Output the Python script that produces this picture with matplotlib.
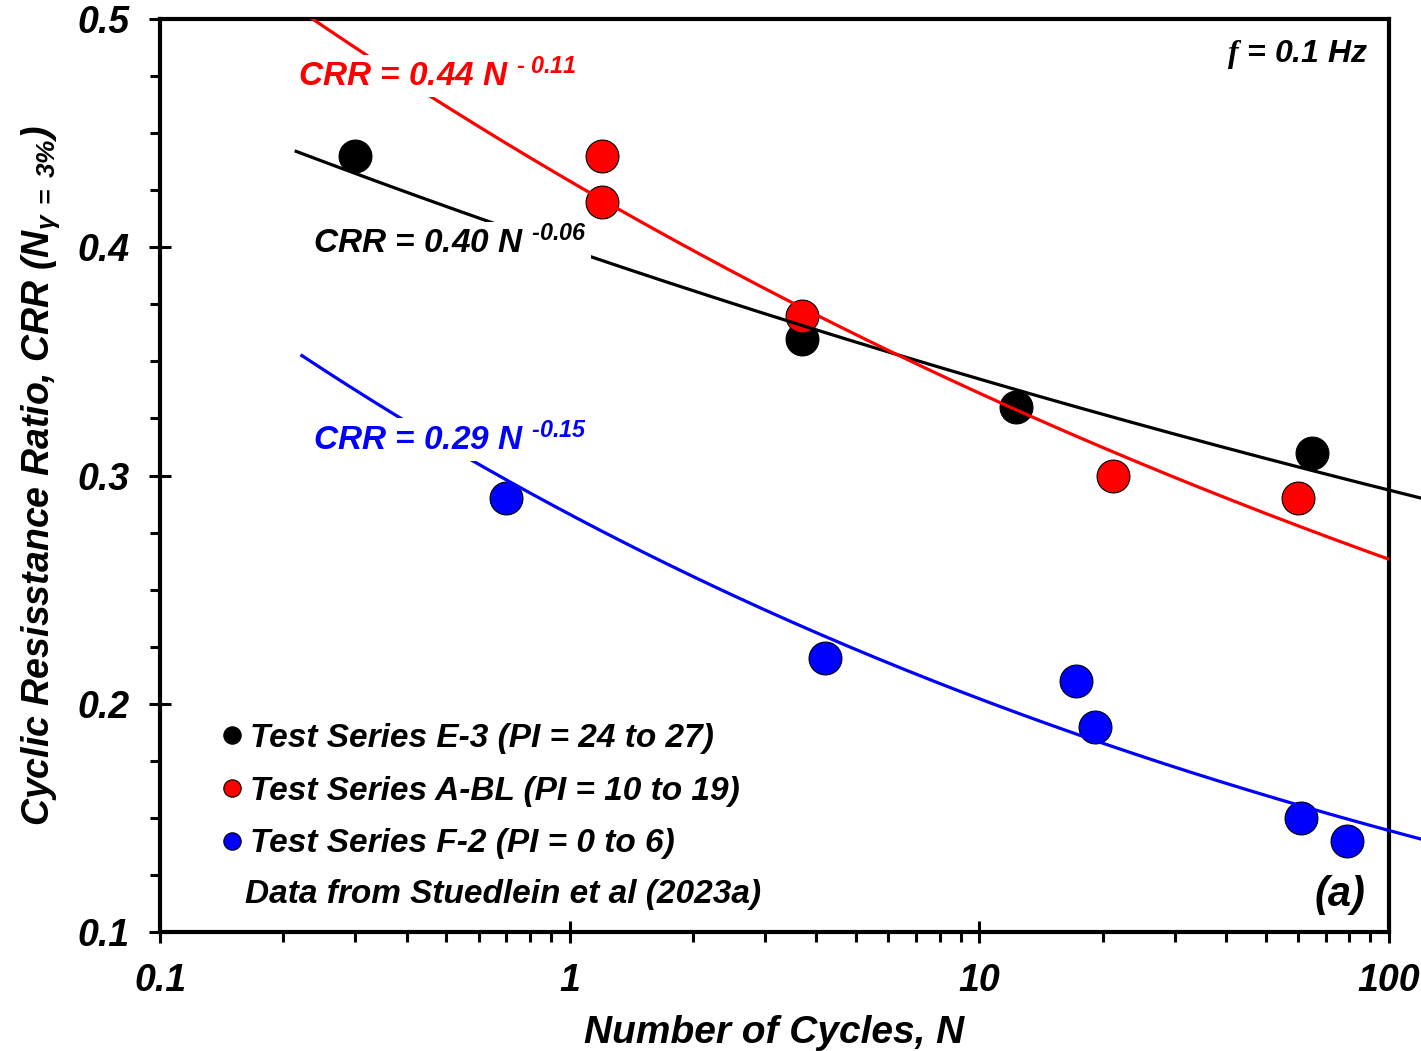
import numpy as np
import matplotlib
matplotlib.use("Agg")
import matplotlib.pyplot as plt
from matplotlib.lines import Line2D
from matplotlib.ticker import MultipleLocator, FixedLocator, NullFormatter

plt.rcParams['font.family'] = ['Liberation Sans', 'DejaVu Sans']
plt.rcParams['font.weight'] = 'bold'
plt.rcParams['font.style'] = 'italic'
plt.rcParams['mathtext.fontset'] = 'custom'
plt.rcParams['mathtext.rm'] = 'Liberation Sans:bold:italic'
plt.rcParams['mathtext.bf'] = 'Liberation Sans:bold:italic'
plt.rcParams['mathtext.it'] = 'Liberation Serif:italic'
plt.rcParams['mathtext.default'] = 'bf'

# test data (number of cycles, CRR)
n_e3 = [0.3, 3.7, 12.3, 65]
crr_e3 = [0.44, 0.36, 0.33, 0.31]
n_abl = [1.2, 1.2, 3.7, 21.2, 60]
crr_abl = [0.44, 0.42, 0.37, 0.30, 0.29]
n_f2 = [0.7, 4.2, 17.2, 19.2, 61, 79]
crr_f2 = [0.29, 0.22, 0.21, 0.19, 0.15, 0.14]

labels = ["Test Series E-3 (PI = 24 to 27)",
          "Test Series A-BL (PI = 10 to 19)",
          "Test Series F-2 (PI = 0 to 6)"]
colors = ["black", "red", "blue"]

# power-law fits CRR = a N^-b, as drawn
fit_a = [0.399, 0.429, 0.283]
fit_b = [0.0666, 0.106, 0.146]
fit_start = [0.215, 0.2, 0.222]
fit_end = [130, 100, 130]
fit_text = [r"CRR = 0.40 N $^{\text{-}0.06}$",
            r"CRR = 0.44 N $^{\text{-}\ 0.11}$",
            r"CRR = 0.29 N $^{\text{-}0.15}$"]

fig = plt.figure(figsize=(14.21, 10.51), dpi=100)
ax = fig.add_axes([0.1126, 0.1132, 0.8649, 0.8687])

for n, c, col in zip([n_e3, n_abl, n_f2], [crr_e3, crr_abl, crr_f2], colors):
    ax.scatter(n, c, s=560, color=col, edgecolors="black", linewidths=0.8, zorder=3)

for a, b, s, e, col in zip(fit_a, fit_b, fit_start, fit_end, colors):
    xx = np.logspace(np.log10(s), np.log10(e), 200)
    ax.plot(xx, a * xx ** (-b), color=col, lw=2.3, zorder=4,
            clip_on=(e <= 100))

# equation labels
box = dict(facecolor="white", edgecolor="none", pad=3)
ax.text(0.1245, 0.7437, fit_text[0], transform=ax.transAxes, fontsize=24,
        color="black", zorder=5, bbox=box)
ax.text(0.1123, 0.9266, fit_text[1], transform=ax.transAxes, fontsize=24,
        color="red", zorder=5, bbox=box)
ax.text(0.1245, 0.528, fit_text[2], transform=ax.transAxes, fontsize=24,
        color="blue", zorder=5, bbox=box)

ax.text(0.9829, 0.953, r"$\mathit{f}$ = 0.1 Hz", transform=ax.transAxes,
        fontsize=23, ha="right")
ax.text(0.9805, 0.029, "(a)", transform=ax.transAxes, fontsize=30, ha="right")
ax.text(0.069, 0.032, "Data from Stuedlein et al (2023a)",
        transform=ax.transAxes, fontsize=24)

handles = [Line2D([], [], ls="none", marker="o", markersize=12.5,
                  markerfacecolor=col, markeredgecolor="black",
                  markeredgewidth=0.8) for col in colors]
ax.legend(handles, labels, loc="upper left", bbox_to_anchor=(0.0476, 0.229),
          frameon=False, fontsize=24, handlelength=0.8, handletextpad=0.15,
          labelspacing=0.65, borderpad=0, borderaxespad=0)

ax.set_xscale("log")
ax.set_xlim(0.1, 100)
ax.set_ylim(0.1, 0.5)
ax.set_xticks([0.1, 1, 10, 100])
ax.set_xticklabels(["0.1", "1", "10", "100"])
ax.xaxis.set_minor_locator(FixedLocator(
    [m * d for d in (0.1, 1, 10) for m in range(2, 10)]))
ax.xaxis.set_minor_formatter(NullFormatter())
ax.yaxis.set_major_locator(MultipleLocator(0.1))
ax.yaxis.set_minor_locator(MultipleLocator(0.025))
ax.yaxis.set_major_formatter(plt.FuncFormatter(lambda v, p: f"{v:.1f}"))

ax.tick_params(which="major", direction="inout", length=16, width=2.2,
               labelsize=27, pad=14)
ax.tick_params(which="minor", direction="out", length=7, width=2.2)
for sp in ax.spines.values():
    sp.set_linewidth(3)

ax.set_xlabel("Number of Cycles, N", fontsize=28, fontweight="bold", labelpad=12)
ax.set_ylabel(r"Cyclic Resisstance Ratio, CRR (N$_{\gamma\ =\ 3\%}$)",
              fontsize=27, fontweight="bold", labelpad=11)

fig.savefig("out.png", dpi=100)
